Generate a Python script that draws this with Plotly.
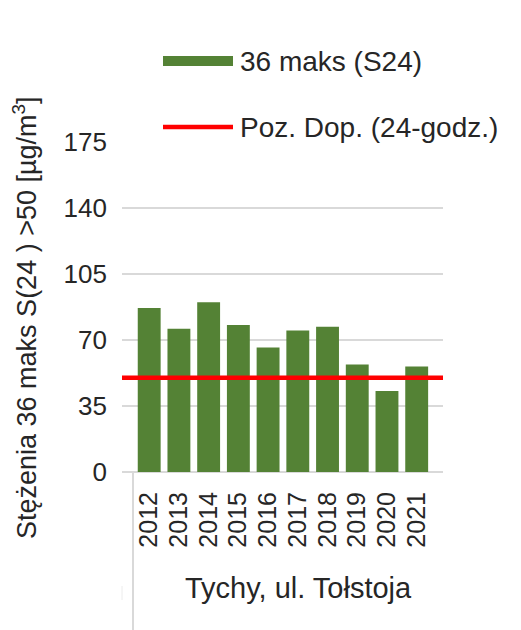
import plotly.graph_objects as go

years = ["2012", "2013", "2014", "2015", "2016", "2017", "2018", "2019", "2020", "2021"]
values_36max = [87, 76, 90, 78, 66, 75, 77, 57, 43, 56]
limit_value = 50
series_name = "36 maks (S24)"
limit_name = "Poz. Dop. (24-godz.)"
y_title = "Stężenia 36 maks S(24 ) >50 [µg/m<sup>3</sup>]"
station = "Tychy, ul. Tołstoja"
y_ticks = [0, 35, 70, 105, 140, 175]

OFF = 8  # page body margin
W, H = 521 - OFF, 630 - OFF
L, R, T, B = 122 - OFF, 78, 142 - OFF, 158
pw, ph = W - L - R, H - T - B

x_idx = list(range(len(years)))
x_range = [-0.915, len(years) - 1 + 0.885]

FONT = "Liberation Sans, Arial, sans-serif"
TXT = "#262626"
GREEN = "#548235"
RED = "#ff0000"
GRID = "#d9d9d9"

def px(xp):
    return (xp - OFF - L) / pw

def py(yp):
    return (H - B - (yp - OFF)) / ph

fig = go.Figure()
fig.add_trace(go.Bar(x=x_idx, y=values_36max, name=series_name,
                     marker=dict(color=GREEN, line=dict(width=0)), showlegend=False))
fig.add_trace(go.Scatter(x=x_range, y=[limit_value, limit_value], mode="lines",
                         name=limit_name, line=dict(color=RED, width=4.5), showlegend=False))

fig.update_layout(
    width=W, height=H,
    margin=dict(l=L, r=R, t=T, b=B, pad=0),
    paper_bgcolor="white", plot_bgcolor="white",
    bargap=0.23,
    font=dict(family=FONT, color=TXT, size=24),
    xaxis=dict(range=x_range, tickmode="array", tickvals=x_idx, ticktext=years,
               tickangle=-90, showgrid=False, zeroline=False, showline=False,
               ticks="", ticklabelstandoff=14, tickfont=dict(size=25, color=TXT)),
    yaxis=dict(range=[0, 175], tickmode="array", tickvals=y_ticks,
               showgrid=True, gridcolor=GRID, gridwidth=1.5, zeroline=True,
               zerolinecolor=GRID, zerolinewidth=1.5, showline=False, ticks="",
               ticklabelstandoff=14, tickfont=dict(size=26, color=TXT)),
    shapes=[
        dict(type="rect", xref="paper", yref="paper", x0=px(163), x1=px(233),
             y0=py(66), y1=py(56), fillcolor=GREEN, line=dict(width=0)),
        dict(type="line", xref="paper", yref="paper", x0=px(163), x1=px(233),
             y0=py(127), y1=py(127), line=dict(color=RED, width=4.5)),
        dict(type="line", xref="paper", yref="paper", x0=px(133), x1=px(133),
             y0=0, y1=py(632), line=dict(color=GRID, width=2)),
        dict(type="line", xref="paper", yref="paper", x0=px(122), x1=px(122),
             y0=py(586), y1=py(600), line=dict(color="#ececec", width=1)),
    ],
    annotations=[
        dict(text=series_name, xref="paper", yref="paper", x=px(238), y=py(61),
             xanchor="left", yanchor="middle", showarrow=False,
             font=dict(size=28, color=TXT)),
        dict(text=limit_name, xref="paper", yref="paper", x=px(238), y=py(128),
             xanchor="left", yanchor="middle", showarrow=False,
             font=dict(size=28, color=TXT)),
        dict(text=y_title, xref="paper", yref="paper", x=px(25), y=py(318),
             xanchor="center", yanchor="middle", textangle=-90, showarrow=False,
             font=dict(size=27, color=TXT)),
        dict(text=station, xref="paper", yref="paper", x=px(298), y=py(588),
             xanchor="center", yanchor="middle", showarrow=False,
             font=dict(size=29, color=TXT)),
    ],
)

fig.write_html("out.html")
